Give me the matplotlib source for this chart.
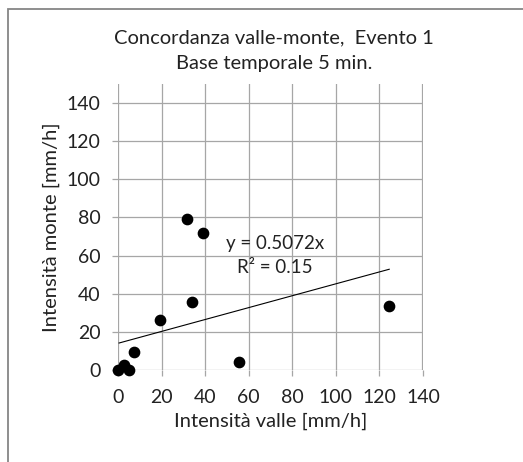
import matplotlib
matplotlib.use("Agg")
import matplotlib.pyplot as plt
from matplotlib.patches import Rectangle
import numpy as np

plt.rcParams['font.family'] = ['Lato', 'DejaVu Sans']

# intensità misurate (mm/h)
valle = [0, 2.9, 5.2, 7.3, 19.4, 31.5, 38.9, 34.0, 55.4, 124.5]
monte = [0, 2.6, 0, 9.6, 26.2, 79.0, 71.7, 35.7, 4.4, 33.6]

# linea di tendenza
trend_slope = 0.312
trend_intercept = 14.0
eq_lines = ["y = 0.5072x", "R² = 0.15"]

ticks = [0, 20, 40, 60, 80, 100, 120, 140]

fig = plt.figure(figsize=(5.23, 4.62), dpi=100)
ax = fig.add_axes([118/523, 1 - 370/462, 305/523, 286/462])

grid_c = '#a6a6a6'
txt_c = '#222222'
for t in ticks:
    ax.axhline(t, color=grid_c, lw=0.9, zorder=1)
    ax.axvline(t, color=grid_c, lw=0.9 if t < 140 else 1.6, zorder=1)

ax.scatter(valle, monte, s=55, color='black', zorder=3, clip_on=False)

xs = np.array([0.5, max(valle)])
ax.plot(xs, trend_slope * xs + trend_intercept, color='black', lw=0.8, zorder=2)
ax.text(72, 66.5, eq_lines[0], ha='center', va='center', fontsize=13.5, color=txt_c)
ax.text(72, 54, eq_lines[1], ha='center', va='center', fontsize=13.5, color=txt_c)

ax.set_xlim(0, 140)
ax.set_ylim(0, 150)
ax.set_xticks(ticks)
ax.set_yticks(ticks)
for s in ax.spines.values():
    s.set_visible(False)
ax.tick_params(direction='out', length=4.5, width=0.9, color=grid_c,
               labelsize=14, labelcolor=txt_c)
ax.tick_params(axis='x', pad=9)
ax.tick_params(axis='y', pad=8)

ax.set_xlabel('Intensità valle [mm/h]', fontsize=14.5, color=txt_c, labelpad=5)
ax.set_ylabel('Intensità monte [mm/h]', fontsize=14.5, color=txt_c, labelpad=5)

fig.text(274/523, 1 - 38/462, 'Concordanza valle-monte,  Evento 1',
         ha='center', va='center', fontsize=14.5, color=txt_c)
fig.text(274/523, 1 - 63/462, 'Base temporale 5 min.',
         ha='center', va='center', fontsize=14.5, color=txt_c)

# cornice del grafico
fig.patches.append(Rectangle((8/523, -0.1), 1.2, 1.1 - 9/462,
                             transform=fig.transFigure, fill=False,
                             edgecolor='#868686', lw=1.3))

fig.savefig('out.png', dpi=100)
